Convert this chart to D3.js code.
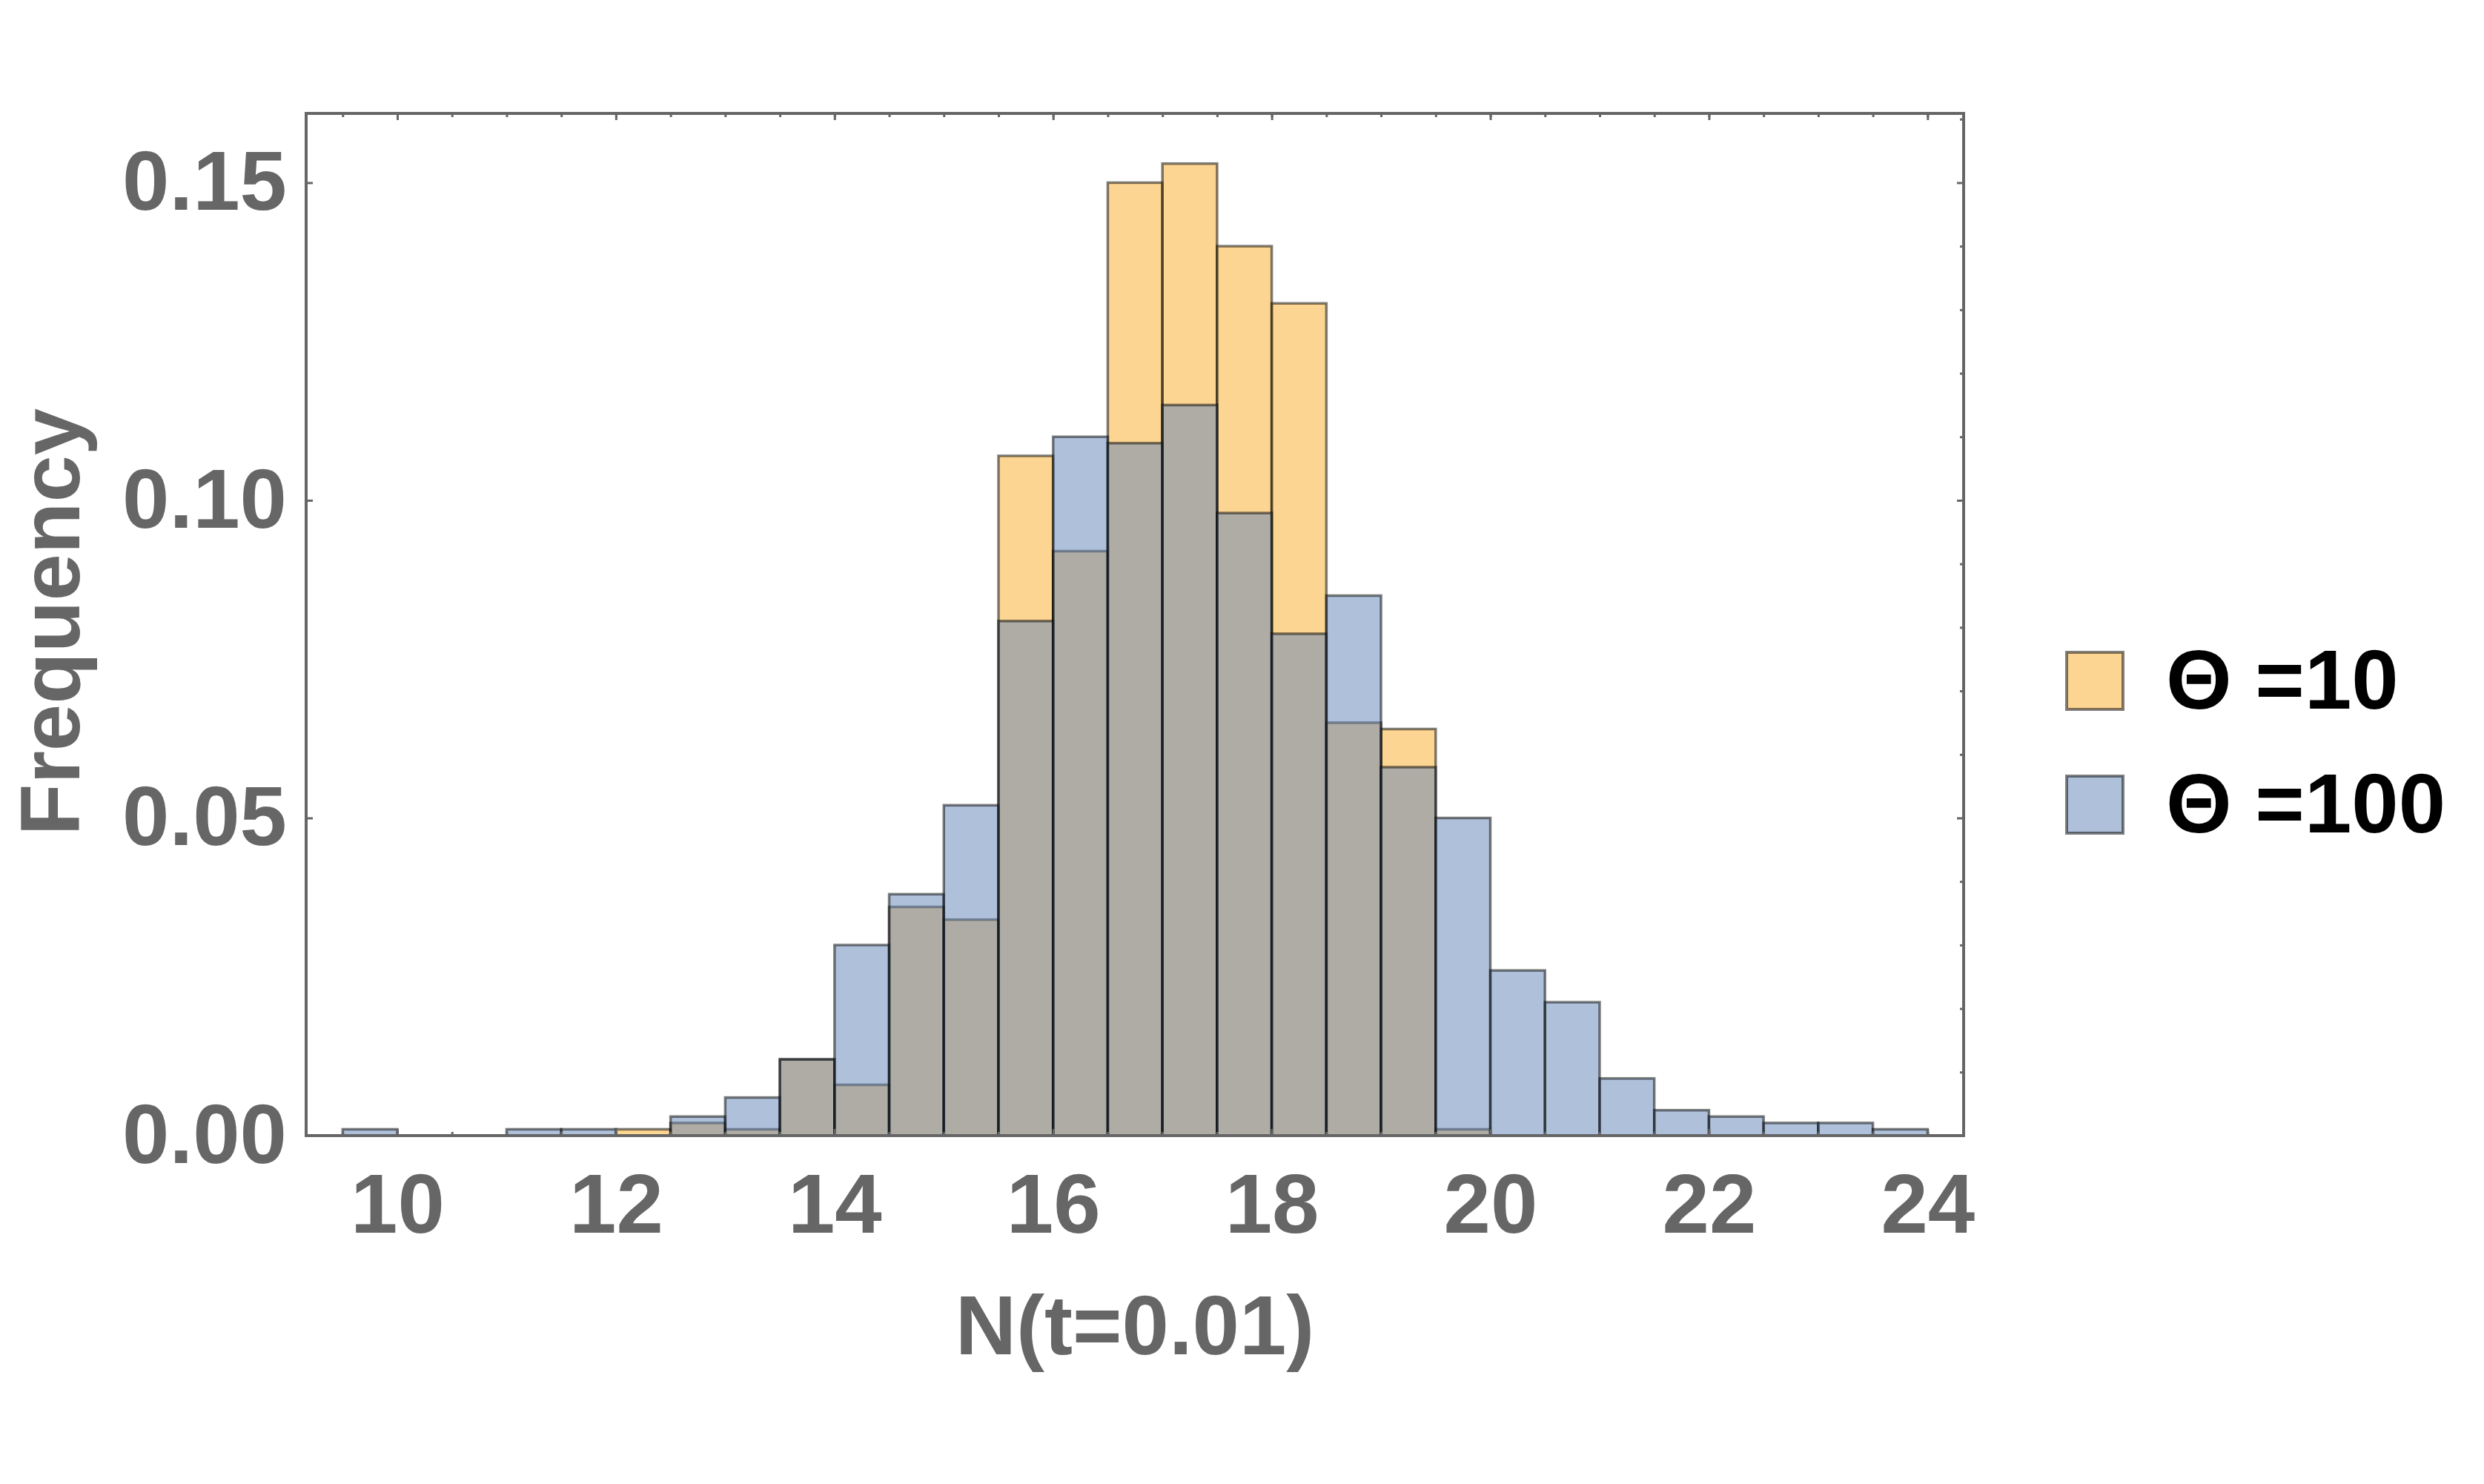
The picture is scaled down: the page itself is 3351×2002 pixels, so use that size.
<!DOCTYPE html>
<html>
<head>
<meta charset="utf-8">
<script src="https://cdn.jsdelivr.net/npm/d3@7"></script>
<style>
  body { margin: 0; background: #fff; }
  svg { display: block; }
</style>
</head>
<body>
<div id="chart"></div>
<script>
// bin left edges (width 0.5)
const binStarts = [9.5, 10, 10.5, 11, 11.5, 12, 12.5, 13, 13.5, 14, 14.5, 15, 15.5, 16, 16.5,
                   17, 17.5, 18, 18.5, 19, 19.5, 20, 20.5, 21, 21.5, 22, 22.5, 23, 23.5];
const binWidth = 0.5;

// Θ = 10
const theta10 = [0, 0, 0, 0, 0, 0.001, 0.002, 0.001, 0.012, 0.008, 0.036, 0.034, 0.107, 0.092, 0.150,
                 0.153, 0.140, 0.131, 0.065, 0.064, 0.001, 0, 0, 0, 0, 0, 0, 0, 0];
// Θ = 100
const theta100 = [0.001, 0, 0, 0.001, 0.001, 0, 0.003, 0.006, 0.012, 0.030, 0.038, 0.052, 0.081, 0.110, 0.109,
                  0.115, 0.098, 0.079, 0.085, 0.058, 0.050, 0.026, 0.021, 0.009, 0.004, 0.003, 0.002, 0.002, 0.001];

const seriesNames = ["\u0398 =10", "\u0398 =100"];
const xTicks = [10, 12, 14, 16, 18, 20, 22, 24];
const yTicks = [0, 0.05, 0.10, 0.15];

const width = 3351;
const height = 2002;
const margin = { top: 153, right: 702, bottom: 470, left: 413 };
const font = "'Liberation Sans', Arial, sans-serif";
const grey = "#666666";

const svg = d3.select("#chart")
  .append("svg")
  .attr("width", width)
  .attr("height", height)
  .attr("viewBox", `0 0 ${width} ${height}`);

const x = d3.scaleLinear()
  .domain([9.166, 24.33])
  .range([margin.left, width - margin.right]);

const y = d3.scaleLinear()
  .domain([0, 0.1609])
  .range([height - margin.bottom, margin.top]);

const color = d3.scaleOrdinal()
  .domain(seriesNames)
  .range(["rgb(249,171,38)", "rgb(95,131,181)"]);

// bars: orange first, blue on top, both half transparent
[theta10, theta100].forEach((vals, si) => {
  const data = binStarts.map((b, i) => ({ x0: b, x1: b + binWidth, v: vals[i] }))
    .filter(d => d.v > 0);
  svg.append("g")
    .selectAll("rect")
    .data(data)
    .join("rect")
    .attr("x", d => x(d.x0))
    .attr("y", d => y(d.v))
    .attr("width", d => x(d.x1) - x(d.x0))
    .attr("height", d => y(0) - y(d.v))
    .attr("fill", color(seriesNames[si]))
    .attr("fill-opacity", 0.5)
    .attr("stroke", "#000")
    .attr("stroke-opacity", 0.5)
    .attr("stroke-width", 3.5);
});

// minor ticks
const minorX = binStarts.concat([24]);
const minorY = [0.01, 0.02, 0.03, 0.04, 0.06, 0.07, 0.08, 0.09, 0.11, 0.12, 0.13, 0.14, 0.16];

function styleTicks(g) {
  g.select(".domain").remove();
  g.selectAll(".tick line").attr("stroke", grey).attr("stroke-width", 3);
}

svg.append("g")
  .attr("transform", `translate(0,${y(0)})`)
  .call(d3.axisBottom(x).tickValues(minorX).tickSize(-5).tickFormat(""))
  .call(styleTicks);
svg.append("g")
  .attr("transform", `translate(0,${margin.top})`)
  .call(d3.axisTop(x).tickValues(minorX).tickSize(-5).tickFormat(""))
  .call(styleTicks);
svg.append("g")
  .attr("transform", `translate(${width - margin.right},0)`)
  .call(d3.axisRight(y).tickValues(minorY).tickSize(-5).tickFormat(""))
  .call(styleTicks);

// major ticks with labels
svg.append("g")
  .attr("transform", `translate(0,${y(0)})`)
  .call(d3.axisBottom(x).tickValues(xTicks).tickSize(-9).tickPadding(50).tickFormat(d3.format("d")))
  .call(styleTicks)
  .call(g => g.selectAll("text")
    .attr("fill", grey)
    .style("font-family", font)
    .style("font-weight", "bold")
    .style("font-size", "114px"));

svg.append("g")
  .attr("transform", `translate(${margin.left},0)`)
  .call(d3.axisLeft(y).tickValues(yTicks).tickSize(-9).tickPadding(26).tickFormat(d3.format(".2f")))
  .call(styleTicks)
  .call(g => g.selectAll("text")
    .attr("fill", grey)
    .style("font-family", font)
    .style("font-weight", "bold")
    .style("font-size", "114px"));

svg.append("g")
  .attr("transform", `translate(0,${margin.top})`)
  .call(d3.axisTop(x).tickValues(xTicks).tickSize(-9).tickFormat(""))
  .call(styleTicks);
svg.append("g")
  .attr("transform", `translate(${width - margin.right},0)`)
  .call(d3.axisRight(y).tickValues(yTicks).tickSize(-9).tickFormat(""))
  .call(styleTicks);

// frame
svg.append("rect")
  .attr("x", margin.left)
  .attr("y", margin.top)
  .attr("width", width - margin.left - margin.right)
  .attr("height", height - margin.top - margin.bottom)
  .attr("fill", "none")
  .attr("stroke", grey)
  .attr("stroke-width", 4);

// axis titles
svg.append("text")
  .attr("x", (margin.left + width - margin.right) / 2)
  .attr("y", 1827)
  .attr("text-anchor", "middle")
  .attr("fill", grey)
  .style("font-family", font)
  .style("font-weight", "bold")
  .style("font-size", "114px")
  .text("N(t=0.01)");

svg.append("text")
  .attr("transform", "rotate(-90)")
  .attr("x", -839)
  .attr("y", 107)
  .attr("text-anchor", "middle")
  .attr("fill", grey)
  .style("font-family", font)
  .style("font-weight", "bold")
  .style("font-size", "114px")
  .text("Frequency");

// legend
const legend = svg.append("g")
  .attr("transform", "translate(2788,880)");

const items = legend.selectAll("g")
  .data(seriesNames)
  .join("g")
  .attr("transform", (d, i) => `translate(0,${i * 167})`);

items.append("rect")
  .attr("width", 76)
  .attr("height", 77)
  .attr("fill", d => color(d))
  .attr("fill-opacity", 0.5)
  .attr("stroke", "#000")
  .attr("stroke-opacity", 0.5)
  .attr("stroke-width", 4);

items.append("text")
  .attr("x", 134)
  .attr("y", 76)
  .attr("fill", "#000")
  .style("font-family", font)
  .style("font-weight", "bold")
  .style("font-size", "114px")
  .text(d => d);
</script>
</body>
</html>
